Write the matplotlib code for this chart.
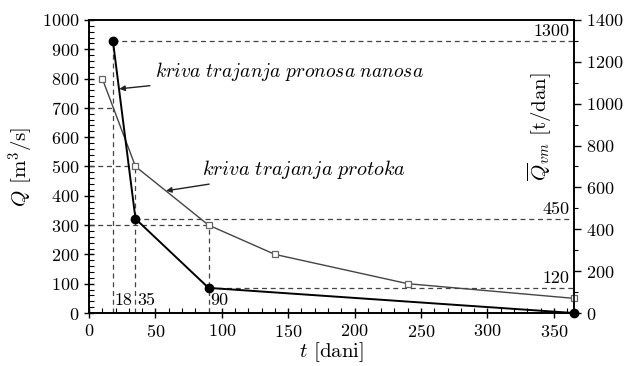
import matplotlib
matplotlib.use("Agg")
import matplotlib.pyplot as plt
from matplotlib.ticker import MultipleLocator

plt.rcParams['font.family'] = 'serif'
plt.rcParams['font.serif'] = ['cmr10']
plt.rcParams['mathtext.fontset'] = 'cm'
plt.rcParams['axes.formatter.use_mathtext'] = True

# kriva trajanja protoka (lijeva os)
t_q = [10, 35, 90, 140, 240, 365]
q = [800, 500, 300, 200, 100, 50]

# kriva trajanja pronosa nanosa (desna os)
t_s = [18, 35, 90, 365]
qs = [1300, 450, 120, 0]

# oznacene tocke
t_marks = [18, 35, 90]
q_marks = [700, 500, 300]
qs_marks = [1300, 450, 120]

fig = plt.figure(figsize=(6.25, 3.66), dpi=100)
ax = fig.add_axes([0.1424, 0.1448, 0.7756, 0.8006])
ax2 = ax.twinx()

ax.set_xlim(0, 365)
ax.set_ylim(0, 1000)
ax2.set_ylim(0, 1400)
ratio = 1000 / 1400

dash = dict(color='#444444', lw=0.9, ls=(0, (4, 3)))

# vertical guides from t axis
ax.plot([18, 18], [0, qs[0] * ratio], **dash)
ax.plot([35, 35], [0, 500], **dash)
ax.plot([90, 90], [0, 300], **dash)
# horizontal guides to left axis
for tt, v in zip(t_marks, q_marks):
    ax.plot([0, tt], [v, v], **dash)
# horizontal guides to right axis
for tt, v in zip(t_marks, qs_marks):
    ax2.plot([tt, 365], [v, v], **dash)

ax.plot(t_q, q, color='#444444', lw=1.0, marker='s', ms=4.5,
        mfc='white', mec='#666666', mew=0.9, zorder=4, clip_on=False)
ax2.plot(t_s, qs, color='black', lw=1.4, marker='o', ms=6,
         mfc='black', mec='black', zorder=5, clip_on=False)

for tt in t_marks:
    ax.text(tt + 1.5, 18, str(tt), fontsize=13, ha='left', va='bottom')
for v in qs_marks:
    ax2.text(362, v + 8, str(v), fontsize=13, ha='right', va='bottom')

ax.annotate(r'$\mathit{kriva\ trajanja\ pronosa\ nanosa}$', xy=(22.8, 765),
            xytext=(50, 825), fontsize=14, va='center', ha='left',
            arrowprops=dict(arrowstyle='-|>', color='#222222', lw=1.0,
                            mutation_scale=8, shrinkA=2, shrinkB=0))
ax.annotate(r'$\mathit{kriva\ trajanja\ protoka}$', xy=(58, 417),
            xytext=(85, 490), fontsize=14.5, va='center', ha='left',
            arrowprops=dict(arrowstyle='-|>', color='#222222', lw=1.0,
                            mutation_scale=8, shrinkA=2, shrinkB=0))

ax.xaxis.set_major_locator(MultipleLocator(50))
ax.xaxis.set_minor_locator(MultipleLocator(10))
ax.yaxis.set_major_locator(MultipleLocator(100))
ax.yaxis.set_minor_locator(MultipleLocator(20))
ax2.yaxis.set_major_locator(MultipleLocator(200))
ax2.yaxis.set_minor_locator(MultipleLocator(100))

ax.tick_params(axis='both', which='major', direction='inout', length=7,
               width=1.0, labelsize=13, top=False, right=False)
ax.tick_params(axis='both', which='minor', direction='in', length=3.5,
               width=0.8, top=False, right=False)
ax2.tick_params(axis='y', which='major', direction='out', length=5,
                width=1.0, labelsize=13)
ax2.tick_params(axis='y', which='minor', direction='out', length=3, width=0.8)

for a in (ax, ax2):
    for s in a.spines.values():
        s.set_linewidth(1.2)

ax.set_xlabel(r'$t$ [dani]', fontsize=15, labelpad=0)
ax.set_ylabel(r'$Q$ [m$^3$/s]', fontsize=15, labelpad=4)
ax2.text(0.93, 0.635, r'$\overline{Q}_{vm}$ [t/dan]', transform=ax2.transAxes,
         rotation=90, fontsize=15, ha='center', va='center')

fig.savefig('out.png', dpi=100)
